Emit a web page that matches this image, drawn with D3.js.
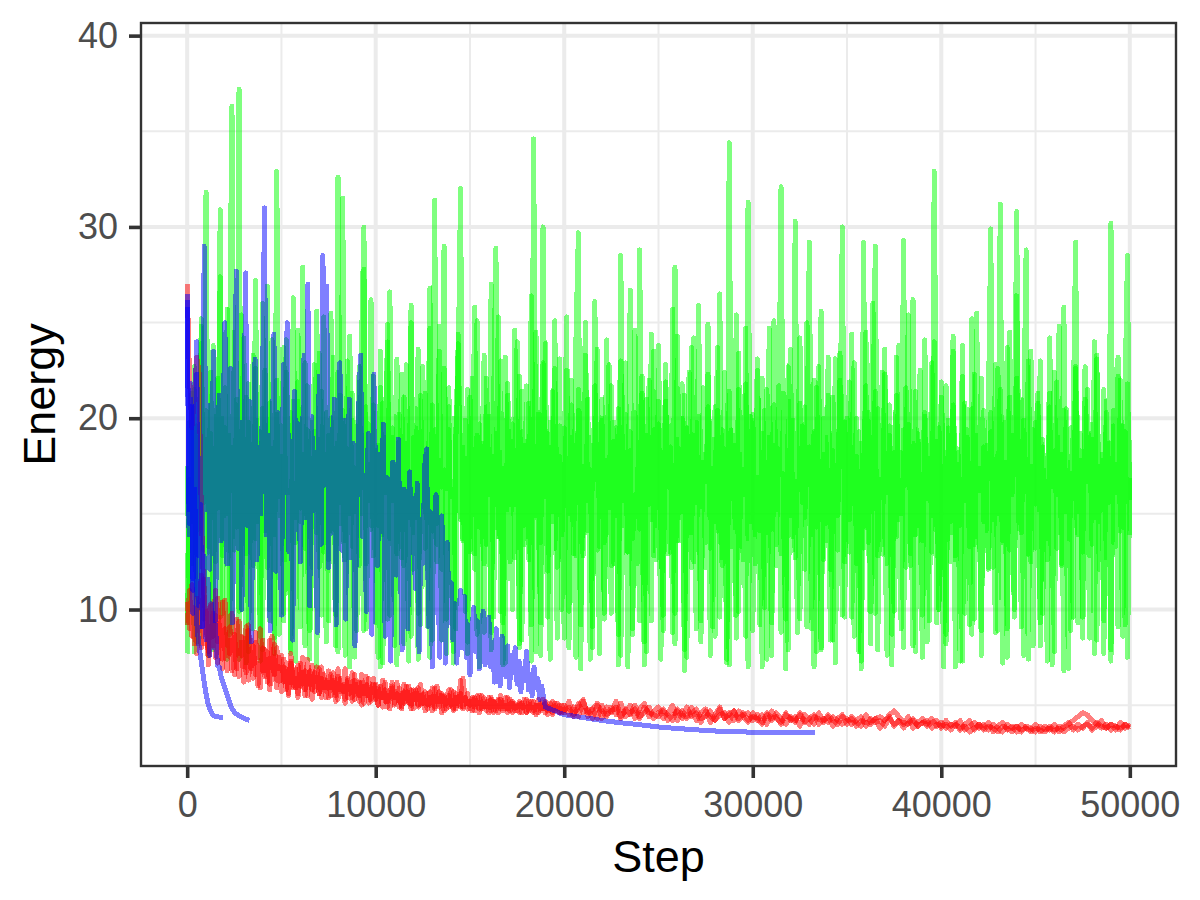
<!DOCTYPE html>
<html>
<head>
<meta charset="utf-8">
<script src="https://cdn.jsdelivr.net/npm/d3@7"></script>
<style>
  html, body { margin: 0; padding: 0; background: #ffffff; }
  svg { display: block; }
  text { font-family: "Liberation Sans", Arial, Helvetica, sans-serif; }
</style>
</head>
<body>
<svg id="chart" width="1200" height="900"></svg>
<script>
// ---------------- DATA ----------------
const xTicks = [0, 10000, 20000, 30000, 40000, 50000];
const xMinorTicks = [5000, 15000, 25000, 35000, 45000];
const yTicks = [10, 20, 30, 40];
const yMinorTicks = [5, 15, 25, 35];
const xTitle = "Step";
const yTitle = "Energy";
const lastStep = 50000;

// green runs: evenly spaced samples from step 0 to 50000
const green1 = [
17.5,10.0,21.3,7.8,19.6,14.2,24.8,9.5,18.9,13.0,22.4,8.6,20.1,15.3,30.9,12.8,19.5,7.4,23.6,36.3,
13.1,20.7,9.9,25.4,15.8,7.2,21.8,16.9,12.3,27.2,14.6,19.3,7.9,22.5,17.1,9.4,24.1,13.9,20.2,8.7,
18.4,23.7,12.6,16.2,7.9,26.3,14.8,20.9,9.1,17.7,22.9,13.5,7.4,19.8,15.2,25.6,12.2,21.4,16.4,8.3,
19.1,14.1,23.2,9.7,32.6,15.6,20.4,7.6,18.2,24.3,13.3,17.4,8.9,21.9,15.0,27.8,12.4,19.7,14.4,22.2,
9.3,18.6,7.0,20.8,16.1,24.9,13.7,19.0,8.1,23.1,15.4,12.7,21.1,17.9,7.3,25.9,14.0,20.5,9.8,18.1,
22.7,13.2,16.7,26.8,8.4,19.4,14.5,23.5,12.1,17.3,7.7,21.6,15.9,20.0,9.0,24.4,16.6,13.6,19.9,7.7,
17.8,22.1,12.9,25.1,14.3,18.7,8.8,20.6,16.0,27.0,9.6,19.2,13.8,23.0,7.1,17.0,21.2,12.5,18.8,15.5,
24.0,8.2,19.3,13.4,21.7,16.3,9.2,34.6,14.9,20.3,7.6,17.6,23.9,12.0,18.5,15.1,22.6,8.5,19.6,13.9,
16.8,25.3,9.9,20.7,14.2,7.5,21.5,17.2,12.8,23.3,15.7,19.0,8.0,26.1,13.1,18.0,21.0,9.5,16.5,22.8,
12.3,19.8,15.0,8.7,28.5,14.4,20.2,7.0,18.3,13.7,24.6,16.2,9.4,21.3,17.5,7.8,22.0,14.7,19.4,12.6,
23.8,15.3,8.9,20.9,17.0,13.0,25.7,9.8,18.9,14.8,21.8,7.9,19.5,16.4,12.2,24.2,15.6,20.1,8.3,17.7,
13.5,22.3,16.9,9.1,20.6,14.1,26.5,12.7,18.4,7.4,21.4,15.8,19.1,9.7,23.4,13.3,17.3,8.6,31.3,14.6,
19.9,12.4,22.5,16.1,7.0,20.4,14.0,24.7,9.3,18.6,15.2,21.7,12.9,17.1,6.9,19.7,23.6,13.8,16.7,8.8,
20.8,15.4,12.1,25.0,17.8,9.0,19.3,14.3,22.7,7.9,18.1,13.6,21.2,16.0,8.4,23.1,14.9,19.0,30.0,12.5,
17.4,21.9,9.6,15.9,20.0,7.8,18.7,13.2,24.5,15.1,8.2,19.6,29.0,12.8,17.9,22.4,14.5,7.6,20.7,16.3,
9.9,23.2,14.7,18.2,8.0,21.6,16.6,12.3,26.2,13.9,19.2,15.5,7.5,20.3,17.2,9.4,22.9,14.2,18.8,10.0,
21.1,16.8,8.7,19.9,14.6,24.3,12.6,17.6,7.3,22.2,15.7,19.4,9.2,20.5,13.4,25.5,16.2,8.9,18.5,14.1,
20.6,29.9,12.2,18.0,15.0,21.5,7.2,17.0,23.7,13.1,19.1,9.6,22.1,16.4,14.0,20.2,28.8,12.9,17.5,8.1,
19.8,15.2,23.0,9.8,17.3,13.7,21.3,7.1,18.3,16.0,24.8,12.4,20.4,14.4,6.9,19.5,15.8,22.6,9.3,17.8,
13.0,21.0,16.5,8.5,19.7,14.8,23.3,12.1,18.1,7.7,20.9,15.6,30.2,13.5,17.6,9.1,22.0,14.3,19.3,7.5,
16.9
];
const green2 = [
9.2,19.8,14.6,22.7,8.3,17.9,25.2,13.1,20.4,7.6,18.3,23.8,12.5,16.7,27.4,9.8,21.6,15.0,19.1,8.8,
24.5,14.3,37.2,10.0,18.6,21.1,7.8,16.4,23.3,13.7,19.9,8.6,26.0,15.5,12.2,20.8,17.4,7.7,22.0,14.9,
18.0,9.4,24.1,16.1,20.3,12.8,7.3,21.9,15.3,27.9,13.2,19.4,8.9,17.1,22.8,14.0,18.9,9.7,25.3,15.8,
12.6,20.0,16.9,8.1,22.4,14.5,31.5,13.6,18.4,7.0,21.3,15.1,19.6,12.3,24.0,30.0,9.0,17.6,14.2,20.7,
16.2,7.5,23.5,13.9,19.0,9.5,26.6,15.7,20.1,12.9,17.3,22.3,8.2,18.7,14.8,25.0,12.1,19.5,7.4,21.2,
15.4,18.1,9.1,24.7,14.1,31.4,13.4,17.8,8.4,22.6,16.3,20.6,12.7,7.2,19.2,23.9,14.7,18.5,9.9,21.5,
13.0,17.2,25.8,8.7,19.7,15.6,12.4,22.1,16.6,7.9,20.5,28.9,13.8,18.2,9.3,23.2,15.2,19.3,10.0,24.6,
16.0,8.0,21.4,14.4,18.8,12.6,26.4,15.9,7.8,20.2,13.5,22.9,17.0,9.6,19.8,14.6,25.1,12.2,18.0,16.5,
8.5,22.5,15.0,19.0,12.9,24.3,29.7,9.2,17.5,14.0,21.0,7.4,18.6,16.8,23.6,13.3,20.0,9.8,17.8,15.3,
21.7,12.4,19.5,7.1,23.0,15.7,18.2,13.0,26.7,9.0,20.3,16.2,14.2,22.2,8.3,19.1,15.5,24.4,12.8,17.4,
20.9,14.5,9.7,22.8,16.4,19.6,8.8,27.9,13.6,18.4,15.1,21.2,7.5,17.2,23.7,12.5,19.8,14.8,9.4,21.6,
16.7,24.9,13.2,18.9,8.6,20.4,15.4,12.3,22.4,17.7,7.1,19.4,14.3,25.4,9.9,18.1,16.0,21.8,13.7,20.1,
8.9,17.9,23.1,14.1,19.2,10.1,21.5,16.8,7.6,20.7,13.4,18.3,32.1,15.2,9.5,22.7,14.9,19.9,12.7,17.1,
24.2,15.6,20.6,9.1,18.5,13.9,22.0,7.8,17.6,25.6,12.6,19.0,15.9,8.4,21.1,16.5,13.1,23.4,18.7,9.6,
20.0,14.7,17.3,22.9,12.4,19.3,6.9,16.9,21.7,13.5,18.0,26.0,9.8,20.5,15.3,12.9,22.3,16.1,19.6,8.7,
18.2,13.8,23.8,15.0,29.3,12.2,19.7,16.3,8.1,21.4,14.4,18.8,9.7,24.1,15.8,20.2,13.0,32.9,17.0,10.0,
21.9,16.6,8.2,19.5,14.0,23.5,12.8,18.4,15.6,7.3,20.8,17.4,13.3,25.2,9.5,19.1,16.2,22.1,14.6,18.6,
12.1,20.3,15.9,8.8,22.6,17.8,13.6,19.8,9.0,24.5,16.0,18.1,30.8,14.2,21.0,7.6,17.3,23.0,12.5,19.4,
15.5,21.3,9.3,18.9,14.8,7.3,20.6,16.4,22.4,13.2,19.0,12.3,25.8,15.1,17.7,8.9,20.1,29.2,13.9,18.3,
9.6,22.7,16.7,19.2,13.4,24.0,8.4,17.5,15.2,21.5,12.7,18.7,7.9,20.4,16.1,23.2,14.1,19.6,9.2,21.8,
15.7
];
const green3 = [
7.7,16.8,12.4,21.5,14.0,8.2,23.9,15.6,31.8,13.3,19.2,7.9,17.5,22.1,9.6,20.0,14.9,25.7,8.7,18.5,
13.8,21.0,7.4,17.7,24.2,12.9,19.8,15.3,9.0,22.6,16.6,7.3,20.5,14.1,26.9,10.0,18.4,8.5,32.9,15.9,
19.6,9.8,22.4,16.0,7.7,20.9,13.5,24.6,14.6,18.1,8.1,21.7,15.4,12.2,19.3,7.0,23.4,16.9,13.0,20.3,
9.4,25.5,14.2,18.7,7.8,21.2,16.2,12.6,23.0,15.0,19.9,7.5,17.2,22.7,13.6,8.9,20.6,15.7,26.2,12.8,
18.3,14.4,21.6,7.2,16.5,24.0,9.7,19.5,13.9,7.1,20.2,17.0,12.3,22.8,15.1,8.6,19.0,14.8,23.6,9.2,
17.6,21.3,13.1,7.5,20.7,15.8,12.5,24.8,16.4,29.0,9.5,19.4,14.5,7.8,18.9,22.5,32.0,13.7,17.9,8.3,
21.1,15.2,12.1,19.1,7.0,16.7,23.3,13.4,20.1,8.8,18.0,14.3,25.3,9.9,17.4,7.2,21.8,15.5,19.7,12.7,
16.1,22.2,8.4,18.6,13.8,20.8,7.3,17.1,24.5,14.7,9.3,30.0,15.9,19.2,7.4,21.4,13.2,17.8,23.1,10.0,
19.5,15.0,8.0,22.0,16.3,12.8,20.4,6.9,18.2,25.0,14.1,17.3,9.1,21.7,15.6,7.7,19.9,13.5,24.1,16.8,
9.8,18.8,14.9,20.5,7.6,17.7,22.9,13.0,19.3,8.7,16.0,12.4,28.8,15.3,7.1,21.0,17.6,9.4,23.5,14.4,
19.7,7.4,16.6,21.9,12.9,18.5,15.8,8.2,24.3,13.6,20.0,6.8,17.0,22.4,14.0,19.1,9.0,25.9,15.4,18.1,
12.2,20.6,7.6,17.4,14.6,23.7,9.6,19.4,16.4,7.2,34.4,13.3,18.6,8.5,21.5,15.1,12.6,24.7,7.0,17.8,
20.2,13.9,16.9,9.2,22.1,15.7,7.4,19.0,14.2,25.1,12.3,18.4,8.8,21.3,16.1,7.9,20.9,13.1,30.3,15.0,
9.5,19.6,14.8,17.5,29.2,12.7,7.0,21.6,16.2,8.0,20.0,14.5,23.2,12.1,18.3,7.2,15.6,22.0,9.7,19.8,
16.4,13.0,24.4,8.6,18.0,15.2,7.3,29.2,14.3,20.3,9.9,17.2,21.4,7.9,16.8,13.4,23.6,12.4,19.1,7.1,
17.0,21.2,14.1,9.0,19.4,16.5,25.4,12.9,18.7,7.8,15.9,22.5,13.6,20.1,8.3,17.9,14.9,24.0,9.3,19.5,
15.4,7.0,21.7,16.0,12.5,20.7,7.0,18.2,14.4,23.8,9.8,19.0,15.3,8.7,22.3,13.8,17.4,7.6,20.4,16.6,
12.2,19.3,14.7,22.8,8.9,31.2,13.5,17.7,7.5,21.1,15.5,10.0,26.4,16.7,9.1,19.9,14.2,7.4,23.5,17.2,
13.2,20.8,8.1,18.5,15.7,12.6,24.2,16.3,7.8,21.9,14.0,18.1,6.8,20.5,13.7,17.1,9.6,22.7,15.1,19.2,
8.5,16.2,21.5,12.8,18.9,7.7,23.1,14.6,17.8,9.4,20.3,15.8,7.3,19.6,13.3,22.2,16.4,8.6,21.4,28.5,
13.9
];

// red runs, early part: one sample every 125 steps from step 0 to 19875
const redEarlyStep = 125;
const red1Early = [
27.0,22.0,19.5,21.0,23.2,22.5,15.0,11.0,9.4,7.6,10.3,8.1,9.7,7.2,8.8,10.4,7.9,6.8,9.1,8.3,
6.6,9.5,7.7,8.6,6.2,7.9,9.2,6.9,7.5,8.8,6.0,7.3,8.4,6.5,7.8,5.8,7.1,8.2,6.3,7.0,
5.7,7.4,6.6,5.5,7.2,6.0,6.9,5.4,6.4,7.5,5.8,6.2,6.8,5.3,6.7,6.1,5.6,7.0,5.9,6.3,
5.4,6.6,5.9,5.2,6.5,5.7,6.0,5.1,6.3,5.6,6.7,5.3,5.8,6.2,5.0,6.0,5.5,6.4,5.2,5.7,
6.1,5.0,5.7,6.3,5.2,5.5,4.8,5.9,5.4,6.2,4.9,5.6,5.1,6.0,5.3,4.8,5.8,5.4,5.0,6.1,
5.2,4.7,5.6,5.0,5.9,4.8,5.3,5.7,4.6,5.5,5.1,4.9,5.8,4.7,5.4,5.0,6.3,4.8,5.2,5.6,
4.8,5.3,4.9,5.5,4.6,5.1,5.4,4.7,5.0,5.3,4.6,5.2,4.9,5.5,4.7,5.0,4.8,5.3,4.6,5.1,
4.9,5.2,4.6,5.0,5.3,4.7,4.9,5.2,4.5,5.0,4.8,5.3,4.6,4.9,5.1,4.5,4.9,5.1,4.6,4.8
];
const red2Early = [
10.4,9.0,11.3,8.2,10.6,9.4,8.0,11.6,9.1,7.8,10.2,8.6,11.0,8.3,9.6,7.4,10.5,8.9,7.7,9.8,
8.1,6.9,9.4,7.6,8.5,6.7,8.9,7.3,6.4,8.3,7.5,9.0,6.8,7.9,6.2,8.4,7.1,6.6,8.0,6.9,
7.6,6.2,6.9,5.6,7.3,6.5,5.9,7.1,6.0,6.7,5.5,7.4,6.3,5.8,6.6,7.0,5.6,6.4,6.0,5.4,
6.8,5.9,6.3,5.5,6.9,5.8,6.1,5.3,6.4,6.0,5.4,6.6,5.7,5.2,6.2,5.6,6.5,5.1,5.9,6.1,
5.3,5.9,5.5,4.9,6.2,5.2,5.7,6.0,5.0,5.6,5.4,4.9,6.1,5.5,5.1,5.8,4.8,5.5,5.9,5.0,
5.6,5.1,4.8,5.7,5.3,4.9,6.0,5.2,5.5,4.7,5.4,5.8,5.0,4.8,5.6,5.2,4.9,6.4,5.3,4.8,
5.2,4.7,5.4,5.0,4.8,5.5,4.9,5.2,4.6,5.4,5.0,4.7,5.3,4.8,5.1,5.4,4.6,5.0,5.2,4.7,
5.0,4.6,5.1,4.8,4.6,5.2,4.8,4.6,5.0,5.3,4.7,4.9,5.1,4.5,4.9,5.2,4.7,4.8,5.0,4.6
];
const red3Early = [
9.2,11.0,8.6,10.1,7.7,9.5,11.8,8.2,9.9,7.1,8.6,9.8,7.5,10.6,8.0,6.9,9.0,7.6,8.4,6.8,
8.7,7.4,6.5,8.3,7.0,9.1,6.3,7.7,8.1,6.6,7.2,5.9,8.0,6.8,7.4,6.1,8.6,6.9,5.9,7.5,
6.3,7.0,5.8,6.6,7.7,5.9,6.4,5.6,7.2,6.1,6.8,5.5,6.5,7.1,5.7,6.2,6.9,5.4,6.6,5.9,
6.2,5.5,6.7,5.9,5.3,6.4,5.7,6.9,5.4,6.0,5.2,6.3,5.8,5.5,6.6,5.1,6.1,5.6,5.3,6.4,
5.5,5.0,6.0,5.4,5.8,4.9,5.6,6.2,5.1,5.3,5.9,4.8,5.7,5.2,6.0,5.0,5.4,5.8,4.9,5.5,
5.1,5.7,5.0,5.4,4.7,5.9,5.2,4.9,5.6,5.3,4.8,5.5,5.0,5.7,4.8,5.3,5.6,4.9,5.4,5.1,
5.0,5.4,4.7,5.2,5.5,4.8,5.1,4.9,5.4,4.7,5.2,5.0,4.6,5.3,5.0,4.8,5.4,4.7,5.1,4.9,
4.7,5.1,4.9,5.3,4.6,4.9,5.2,4.7,5.0,4.6,5.1,4.8,5.2,4.7,4.9,4.6,5.1,4.8,4.6,5.0
];
// red runs, late part: one sample every 250 steps from step 20000 to 50000
const redLateStart = 20000;
const redLateStep = 250;
const red1Late = [
4.6,5.2,4.5,4.9,5.3,4.4,4.8,5.1,4.3,4.9,4.6,5.2,4.4,4.7,5.0,4.3,4.8,5.1,4.4,4.7,
4.9,4.3,4.6,5.0,4.2,4.7,4.4,4.9,4.2,4.6,4.8,4.1,4.5,4.9,4.3,4.6,4.2,4.7,4.4,4.1,
4.6,4.2,4.5,4.0,4.7,4.3,4.1,4.6,4.2,4.4,3.9,4.5,4.3,4.0,4.6,4.2,4.4,3.9,4.3,4.5,
4.0,4.4,4.1,3.9,4.5,4.1,4.3,3.8,4.2,4.4,3.9,4.2,4.0,4.4,3.8,4.1,4.3,3.9,4.1,4.2,
3.8,4.2,3.9,4.1,3.7,4.0,4.2,3.7,4.0,3.8,4.1,3.6,3.9,4.1,3.7,3.9,3.6,4.0,3.8,3.7,
4.0,3.6,3.9,3.7,4.0,3.6,3.9,4.1,3.7,4.0,3.8,4.1,3.7,3.9,4.2,3.8,4.0,3.7,4.1,3.8,
3.9
];
const red2Late = [
5.0,4.5,4.9,4.4,5.2,4.6,4.8,4.3,5.0,4.5,4.7,4.9,4.3,4.8,4.5,5.0,4.4,4.6,4.9,4.3,
4.6,4.8,4.2,4.5,4.7,4.3,4.9,4.4,4.6,4.1,4.7,4.4,4.2,4.8,4.3,4.5,4.7,4.2,4.5,4.6,
4.2,4.5,4.1,4.6,4.3,4.4,4.0,4.5,4.3,4.1,4.6,4.2,4.0,4.4,4.3,4.1,4.5,4.2,4.0,4.4,
4.3,4.0,4.2,4.4,3.9,4.3,4.1,4.2,3.9,4.3,4.0,4.2,3.8,4.1,4.3,3.9,4.1,4.0,4.3,3.9,
4.1,3.8,4.0,3.9,4.2,3.7,3.9,4.1,3.8,4.0,3.7,4.0,3.8,3.6,4.0,3.8,3.9,3.6,3.9,3.8,
3.6,3.9,3.7,3.8,3.6,3.9,3.8,4.0,4.2,4.4,4.6,4.5,4.2,4.0,3.8,4.0,3.7,3.9,3.8,4.0,
3.8
];
const red3Late = [
4.7,4.9,4.4,5.1,4.6,4.8,4.3,5.0,4.7,4.4,4.9,4.5,5.1,4.4,4.6,4.8,4.3,4.9,4.6,4.5,
4.4,4.7,4.5,4.2,4.8,4.5,4.3,4.6,4.8,4.3,4.4,4.7,4.2,4.5,4.6,4.1,4.7,4.3,4.6,4.2,
4.4,4.3,4.0,4.5,4.2,4.6,4.3,4.0,4.4,4.2,4.5,4.1,4.3,4.5,4.0,4.3,4.1,4.4,4.2,4.0,
4.2,4.3,3.9,4.2,4.1,4.0,4.3,4.4,4.2,4.5,4.7,4.4,4.1,4.0,4.2,3.9,4.1,4.2,3.8,4.0,
3.9,4.0,3.7,4.0,3.8,3.9,3.6,3.8,4.0,3.7,3.9,3.8,3.6,3.9,3.8,3.6,3.9,3.7,3.8,3.6,
3.8,3.7,3.6,3.9,3.7,3.8,3.6,3.8,3.9,3.7,3.9,4.0,3.8,4.1,3.9,3.8,4.0,3.9,3.7,4.0,
3.9
];

// blue runs: one sample every 100 steps from step 0
const blueStepSize = 100;
const blueLong = [
26.2,14.5,21.8,9.8,19.6,24.0,12.8,17.9,9.1,29.0,15.2,20.7,12.1,18.4,23.5,9.4,16.8,21.2,13.6,19.3,
25.0,12.4,17.1,22.6,9.3,15.9,27.7,13.2,19.8,10.0,18.0,27.6,14.4,20.9,8.3,16.7,23.1,12.6,18.5,15.0,
21.7,31.0,13.9,19.1,8.9,17.3,24.4,12.0,20.3,15.6,9.7,22.8,16.1,25.0,13.0,18.8,8.4,21.4,14.2,19.7,
12.5,17.6,23.3,14.8,27.0,10.2,20.1,15.3,18.2,8.8,22.2,13.4,28.5,16.5,26.9,12.2,19.4,14.0,21.0,9.2,
17.4,22.9,13.1,19.9,9.5,16.2,21.0,12.7,18.7,8.1,15.5,20.5,23.3,13.8,17.0,9.9,19.2,14.6,8.7,22.3,
16.4,12.3,18.1,14.1,19.7,8.6,16.9,13.3,7.3,17.7,15.0,11.8,18.9,12.9,7.9,16.3,14.3,9.0,17.2,13.0,
15.8,11.1,16.6,7.8,14.7,12.4,17.5,18.4,9.1,15.1,7.0,13.9,16.0,11.6,7.5,14.9,12.2,7.2,13.5,9.3,
11.4,8.4,10.3,7.2,9.6,11.0,8.0,10.7,7.5,9.2,6.6,8.8,10.1,7.8,9.4,6.9,8.5,9.9,7.1,8.1,
9.6,7.0,8.3,6.2,9.0,7.4,6.0,8.6,7.2,6.5,8.1,5.9,7.6,6.7,8.0,6.1,7.3,5.7,6.9,6.3,
7.8,5.8,6.6,5.5,7.0,5.9,6.4,5.3,6.0,5.4
];
// smooth end of the long blue run: [step, energy]
const blueLongTail = [
[19000,4.9],[19500,4.7],[20000,4.5],[21000,4.35],[22000,4.2],[23000,4.08],[24000,3.98],
[25000,3.86],[26000,3.78],[27000,3.71],[28000,3.65],[29000,3.61],[30000,3.59],
[31000,3.58],[32000,3.57],[33300,3.56]
];
const blueShortA = [
26.5,15.2,21.0,11.6,16.3,9.4,8.3,7.6,6.9,6.2,5.6,5.1,4.8,4.6,4.45,4.42,4.4,4.38,4.36,4.35
];
const blueShortB = [
25.8,13.9,20.6,11.0,17.4,22.3,10.2,15.5,9.1,12.8,8.4,11.6,7.6,10.3,8.0,9.2,7.1,7.0,6.5,6.2,
5.9,5.6,5.3,5.0,4.8,4.65,4.55,4.48,4.42,4.38,4.33,4.28,4.24,4.2
];

// ---------------- LAYOUT ----------------
const panel = { left: 141, right: 1176, top: 23, bottom: 766 };
const colors = { green: "#00FF00", red: "#FF0000", blue: "#0000FF" };

const svg = d3.select("#chart");
const x = d3.scaleLinear().domain([-2450, 52450]).range([panel.left, panel.right]);
const y = d3.scaleLinear().domain([1.82, 40.66]).range([panel.bottom, panel.top]);

svg.append("rect").attr("x", 0).attr("y", 0).attr("width", 1200).attr("height", 900).attr("fill", "#ffffff");

svg.append("defs").append("clipPath").attr("id", "clip")
  .append("rect")
  .attr("x", panel.left).attr("y", panel.top)
  .attr("width", panel.right - panel.left).attr("height", panel.bottom - panel.top);

const grid = svg.append("g").attr("clip-path", "url(#clip)");
grid.selectAll(".ymin").data(yMinorTicks).enter().append("line")
  .attr("x1", panel.left).attr("x2", panel.right)
  .attr("y1", d => y(d)).attr("y2", d => y(d))
  .attr("stroke", "#EBEBEB").attr("stroke-width", 2);
grid.selectAll(".xmin").data(xMinorTicks).enter().append("line")
  .attr("y1", panel.top).attr("y2", panel.bottom)
  .attr("x1", d => x(d)).attr("x2", d => x(d))
  .attr("stroke", "#EBEBEB").attr("stroke-width", 2);
grid.selectAll(".ymaj").data(yTicks).enter().append("line")
  .attr("x1", panel.left).attr("x2", panel.right)
  .attr("y1", d => y(d)).attr("y2", d => y(d))
  .attr("stroke", "#EBEBEB").attr("stroke-width", 4);
grid.selectAll(".xmaj").data(xTicks).enter().append("line")
  .attr("y1", panel.top).attr("y2", panel.bottom)
  .attr("x1", d => x(d)).attr("x2", d => x(d))
  .attr("stroke", "#EBEBEB").attr("stroke-width", 4);

// ---------------- SERIES ----------------
function evenSeries(values, endStep) {
  const dt = endStep / (values.length - 1);
  return values.map((v, i) => [i * dt, v]);
}
function fixedStepSeries(values, dt, start = 0) {
  return values.map((v, i) => [start + i * dt, v]);
}
function redRun(early, late) {
  return fixedStepSeries(early, redEarlyStep).concat(fixedStepSeries(late, redLateStep, redLateStart));
}

const series = [
  { color: colors.green, pts: evenSeries(green1, lastStep) },
  { color: colors.green, pts: evenSeries(green2, lastStep) },
  { color: colors.green, pts: evenSeries(green3, lastStep) },
  { color: colors.red, pts: redRun(red1Early, red1Late) },
  { color: colors.red, pts: redRun(red2Early, red2Late) },
  { color: colors.red, pts: redRun(red3Early, red3Late) },
  { color: colors.blue, pts: fixedStepSeries(blueLong, blueStepSize).concat(blueLongTail) },
  { color: colors.blue, pts: fixedStepSeries(blueShortA, blueStepSize) },
  { color: colors.blue, pts: fixedStepSeries(blueShortB, blueStepSize) }
];

const line = d3.line().x(d => x(d[0])).y(d => y(d[1]));
const lines = svg.append("g").attr("clip-path", "url(#clip)");
lines.selectAll("path").data(series).enter().append("path")
  .attr("d", d => line(d.pts))
  .attr("fill", "none")
  .attr("stroke", d => d.color)
  .attr("stroke-opacity", 0.5)
  .attr("stroke-width", 5)
  .attr("stroke-linejoin", "round")
  .attr("stroke-linecap", "butt")
  .attr("shape-rendering", "crispEdges");

// panel border
svg.append("rect")
  .attr("x", panel.left).attr("y", panel.top)
  .attr("width", panel.right - panel.left).attr("height", panel.bottom - panel.top)
  .attr("fill", "none").attr("stroke", "#333333").attr("stroke-width", 2.4);

// ---------------- AXES ----------------
const xAxis = svg.append("g")
  .attr("transform", `translate(0,${panel.bottom})`)
  .call(d3.axisBottom(x).tickValues(xTicks).tickFormat(d3.format("d")).tickSize(12).tickPadding(13));
const yAxis = svg.append("g")
  .attr("transform", `translate(${panel.left},0)`)
  .call(d3.axisLeft(y).tickValues(yTicks).tickFormat(d3.format("d")).tickSize(12).tickPadding(11));

[xAxis, yAxis].forEach(g => {
  g.select(".domain").remove();
  g.selectAll(".tick line").attr("stroke", "#333333").attr("stroke-width", 3.6);
  g.selectAll(".tick text")
    .attr("fill", "#4D4D4D")
    .style("font-size", "36px")
    .style("font-family", "'Liberation Sans', Arial, sans-serif");
});

svg.append("text")
  .attr("x", (panel.left + panel.right) / 2)
  .attr("y", 872)
  .attr("text-anchor", "middle")
  .attr("fill", "#000000")
  .style("font-size", "45px")
  .text(xTitle);

svg.append("text")
  .attr("transform", `translate(55,${(panel.top + panel.bottom) / 2}) rotate(-90)`)
  .attr("text-anchor", "middle")
  .attr("fill", "#000000")
  .style("font-size", "45px")
  .text(yTitle);
</script>
</body>
</html>
